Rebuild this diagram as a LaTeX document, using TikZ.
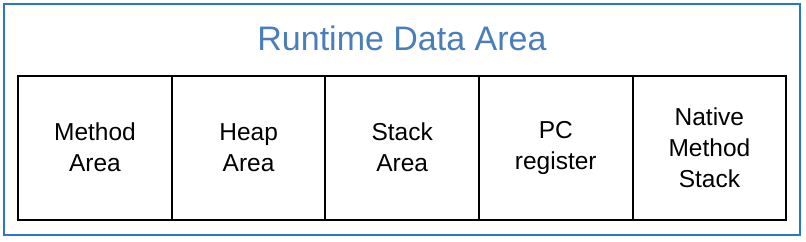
\documentclass[tikz,border=0pt]{standalone}
\usepackage{fontspec}
\setmainfont{Liberation Sans}
\usetikzlibrary{positioning}

\definecolor{framblue}{RGB}{38,120,200}
\definecolor{titleblue}{RGB}{74,126,187}

\begin{document}
\begin{tikzpicture}[x=1pt, y=-1pt,
  area/.style={draw, line width=2pt, minimum width=153.6pt, minimum height=144pt,
    inner sep=0pt, outer sep=0pt, align=center, font=\fontsize{24.5}{31}\selectfont}]
  \useasboundingbox (0,0) rectangle (806,241);

  % 外框
  \draw[framblue, line width=2pt] (4,4) rectangle (800,235);
  \node[titleblue, anchor=base, font=\fontsize{34}{40}\selectfont] (title) at (402,50.5) {Runtime Data Area};

  % 五个区域
  \node[area] (method) at (95,147.5) {Method\\Area};
  \node[area, right=0pt of method] (heap)   {Heap\\Area};
  \node[area, right=0pt of heap]   (stack)  {Stack\\Area};
  \node[area, right=0pt of stack]  (pc)     {PC\\register};
  \node[area, right=0pt of pc]     (native) {Native\\Method\\Stack};
\end{tikzpicture}
\end{document}
